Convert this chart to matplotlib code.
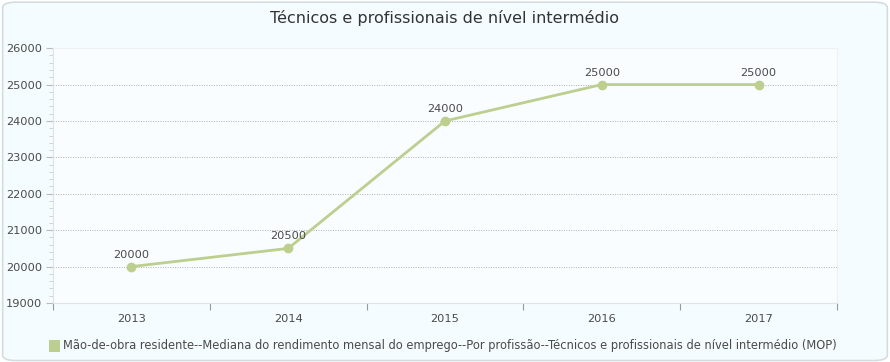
import matplotlib.pyplot as plt
from matplotlib.patches import FancyBboxPatch, Rectangle
from matplotlib.ticker import MultipleLocator, FixedLocator

years = ['2013', '2014', '2015', '2016', '2017']
values = [20000, 20500, 24000, 25000, 25000]
title = 'Técnicos e profissionais de nível intermédio'
series_name = ('Mão-de-obra residente--Mediana do rendimento mensal do emprego--'
               'Por profissão--Técnicos e profissionais de nível intermédio (MOP)')

line_color = '#bccf8e'
text_color = '#4a4a4a'

fig = plt.figure(figsize=(8.9, 3.62), dpi=100)
fig.patch.set_facecolor('white')

# rounded outer frame
frame = FancyBboxPatch((0.003, 0.004), 0.994, 0.99, boxstyle='round,pad=0,rounding_size=0.015',
                       transform=fig.transFigure, facecolor='#f5fcff', edgecolor='#d3dde0',
                       linewidth=1.2, zorder=-5)
fig.patches.append(frame)

ax = fig.add_axes([0.0596, 0.163, 0.8808, 0.704])
ax.set_zorder(2)
ax.set_facecolor('#f9fdff')

x = list(range(len(years)))
ax.plot(x, values, color=line_color, linewidth=2, marker='o', markersize=6, zorder=3)
for xi, v in zip(x, values):
    ax.annotate(str(v), (xi, v), xytext=(0, 5), textcoords='offset points',
                ha='center', va='bottom', fontsize=8.2, color=text_color)

ax.set_xlim(-0.5, len(years) - 0.5)
ax.set_ylim(19000, 26000)
ax.yaxis.set_major_locator(MultipleLocator(1000))
ax.yaxis.set_minor_locator(MultipleLocator(200))
ax.grid(axis='y', which='major', linestyle=(0, (1, 1.5)), color='#b0b0b0', linewidth=0.7)

ax.xaxis.set_major_locator(FixedLocator([i - 0.5 for i in range(len(years) + 1)]))
ax.xaxis.set_minor_locator(FixedLocator(x))
ax.set_xticklabels([])
ax.set_xticklabels(years, minor=True)
ax.tick_params(axis='x', which='major', length=5, color='#999999', direction='out')
ax.tick_params(axis='x', which='minor', length=0, pad=8, labelsize=8.2, labelcolor=text_color)
ax.tick_params(axis='y', which='major', length=5, color='#bbbbbb', labelsize=8.2,
               labelcolor=text_color, pad=3)
ax.tick_params(axis='y', which='minor', length=3, color='#cccccc')

for side in ['top', 'right']:
    ax.spines[side].set_color('#eef2f3')
for side in ['left', 'bottom']:
    ax.spines[side].set_color('#dde3e6')

fig.text(0.5, 0.95, title, ha='center', va='center', fontsize=11.5, color='#333333')

# legend
fig.patches.append(Rectangle((0.0545, 0.028), 0.0125, 0.032, transform=fig.transFigure,
                             facecolor=line_color, edgecolor='none'))
fig.text(0.071, 0.045, series_name, ha='left', va='center', fontsize=8.3, color=text_color)

fig.savefig('out.png', dpi=100, facecolor=fig.get_facecolor())
